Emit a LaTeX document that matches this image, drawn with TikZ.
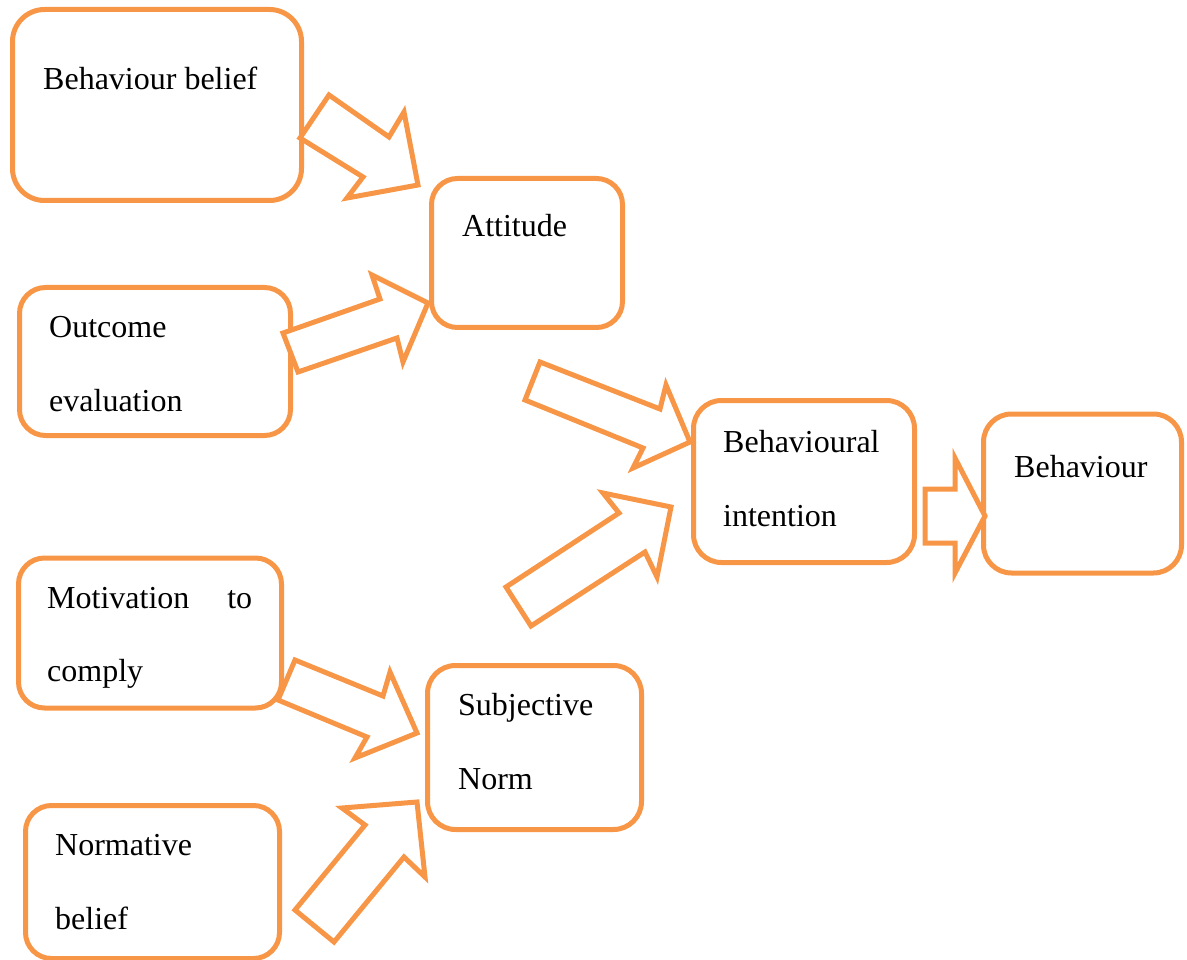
\documentclass[tikz,border=0pt]{standalone}
\usepackage{fontspec}
\setmainfont{Liberation Serif}
\definecolor{orng}{HTML}{F79646}
\begin{document}
\begin{tikzpicture}[x=1pt,y=-1pt,
  box/.style={draw=orng, line width=5pt, rectangle, inner sep=0pt, outer sep=0pt},
  lbl/.style={anchor=base west, inner sep=0pt, font=\fontsize{32}{38}\selectfont},
  blockarrow/.style={draw=orng, line width=5pt, line join=miter, fill=white}]
\useasboundingbox (0,0) rectangle (1187,960);
% boxes
\node[box, minimum width=289pt, minimum height=191pt, rounded corners=32pt] (bb) at (157,105) {};
\node[box, minimum width=271pt, minimum height=148pt, rounded corners=26pt] (oe) at (155,361.5) {};
\node[box, minimum width=263pt, minimum height=150pt, rounded corners=26pt] (mc) at (150,633) {};
\node[box, minimum width=254pt, minimum height=153pt, rounded corners=26pt] (nb) at (152.5,882) {};
\node[box, minimum width=191pt, minimum height=149pt, rounded corners=26pt] (at) at (527,253) {};
\node[box, minimum width=214pt, minimum height=164pt, rounded corners=28pt] (sn) at (534.5,747.5) {};
\node[box, minimum width=221pt, minimum height=162pt, rounded corners=28pt] (bi) at (804,481.5) {};
\node[box, minimum width=198pt, minimum height=159pt, rounded corners=28pt] (bh) at (1082.5,493.5) {};
% labels
\node[lbl] (tbb) at (43,89.5) {Behaviour belief};
\node[lbl] (toe1) at (49,337.5) {Outcome};
\node[lbl] (toe2) at (49,411.5) {evaluation};
\node[lbl] (tmc1) at (47,608.5) {\makebox[205pt][s]{Motivation to}};
\node[lbl] (tmc2) at (47,681.5) {comply};
\node[lbl] (tnb1) at (55,855.5) {Normative};
\node[lbl] (tnb2) at (55,929.5) {belief};
\node[lbl] (tat) at (462,236.5) {Attitude};
\node[lbl] (tsn1) at (458,715.5) {Subjective};
\node[lbl] (tsn2) at (458,789.5) {Norm};
\node[lbl] (tbi1) at (723,452.5) {Behavioural};
\node[lbl] (tbi2) at (723,526.5) {intention};
\node[lbl] (tbh) at (1014,477.5) {Behaviour};
% block arrows
\draw[blockarrow] (329,95) -- (389,137) -- (404,112) -- (418,185) -- (347,198) -- (363,177) -- (300,138) -- cycle;
\draw[blockarrow] (283,333) -- (380,299) -- (372,275) -- (428,303) -- (403,362) -- (397,338) -- (298,372) -- cycle;
\draw[blockarrow] (540,362) -- (660,409) -- (666,385) -- (690,442) -- (633,468) -- (643,448) -- (525,400) -- cycle;
\draw[blockarrow] (506,587) -- (619,513) -- (603,493) -- (671,507) -- (657,577) -- (645,552) -- (531,626) -- cycle;
\draw[blockarrow] (925,489) -- (955,489) -- (955,458) -- (985,516) -- (955,573) -- (955,543) -- (925,543) -- cycle;
\draw[blockarrow] (295,660) -- (383,696) -- (390,672) -- (417,733) -- (355,758) -- (367,737) -- (278,700) -- cycle;
\draw[blockarrow] (295,910) -- (365,825) -- (342,808) -- (417,802) -- (425,877) -- (404,857) -- (334,942) -- cycle;
\end{tikzpicture}
\end{document}
